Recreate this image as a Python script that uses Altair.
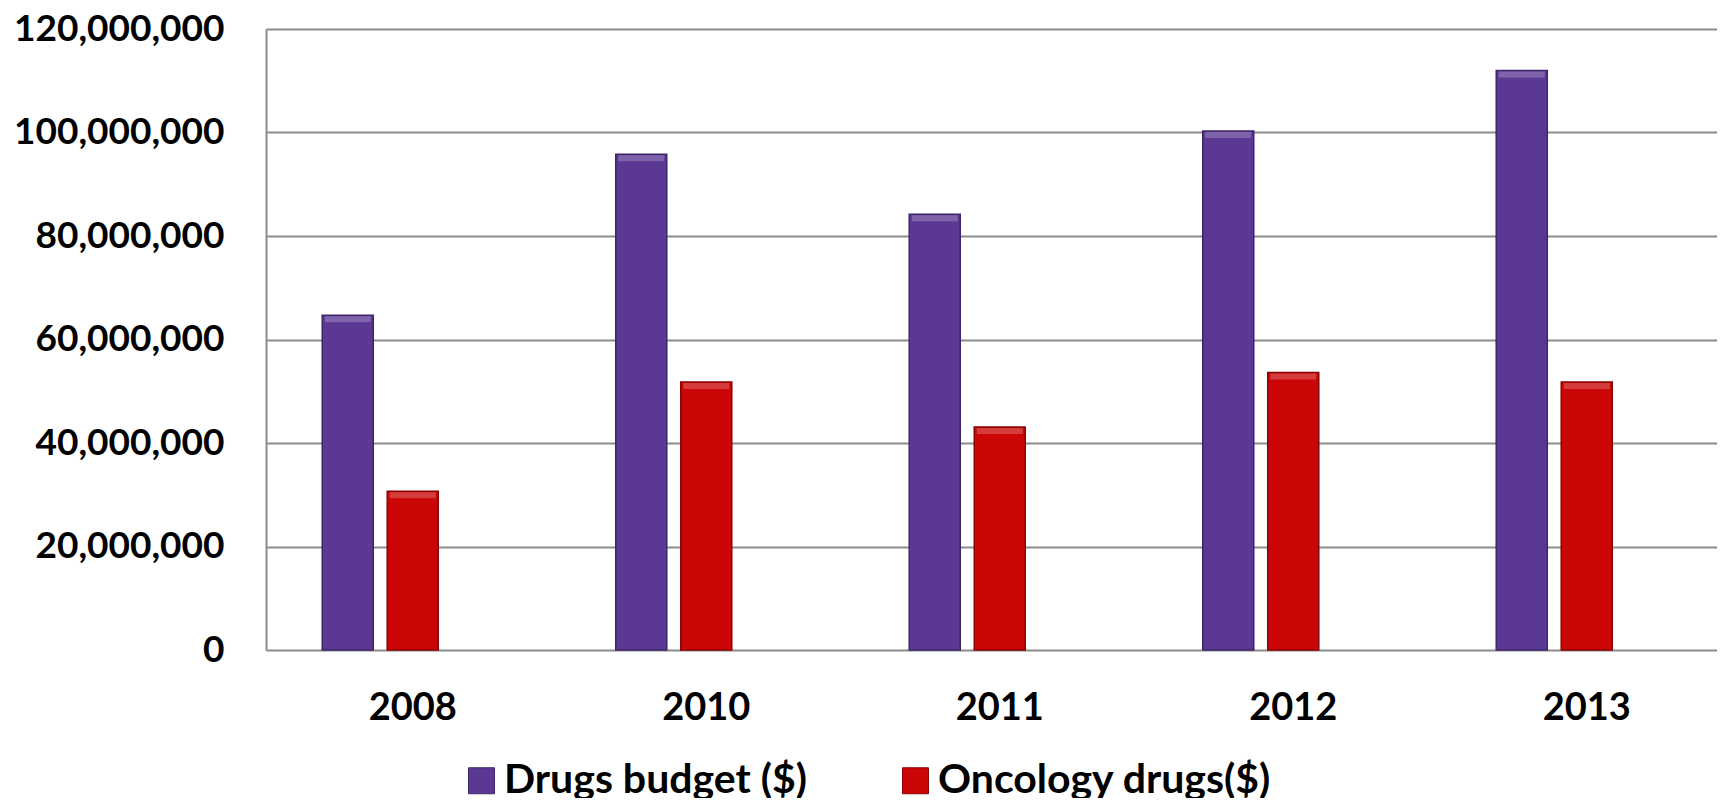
import altair as alt
import pandas as pd

years = ["2008", "2010", "2011", "2012", "2013"]
drugs_budget = [64.7e6, 95.8e6, 84.2e6, 100.3e6, 112.0e6]
oncology_drugs = [30.7e6, 51.8e6, 43.1e6, 53.6e6, 51.8e6]
series = ["Drugs budget ($)", "Oncology drugs($)"]
offset_slots = series + ["(empty)"]
fill_colors = ["#5B3893", "#CA0606"]
edge_colors = ["#3F2468", "#8A0303"]
y_ticks = [0, 20000000, 40000000, 60000000, 80000000, 100000000, 120000000]

rows = []
for i, yr in enumerate(years):
    rows.append({"year": yr, "series": series[0], "value": drugs_budget[i]})
    rows.append({"year": yr, "series": series[1], "value": oncology_drugs[i]})
df = pd.DataFrame(rows)

FONT = "Lato"
GRID = "#8C8C8C"

x_enc = alt.X(
    "year:N", sort=years,
    scale=alt.Scale(range=[0, 1467.5], paddingInner=0, paddingOuter=0),
    axis=alt.Axis(title=None, labelAngle=0, domain=False, ticks=False, tickSize=0,
                  labelPadding=39, labelFontSize=38, labelFont=FONT,
                  labelFontWeight="bold", labelColor="black", grid=False),
)
xoff_enc = alt.XOffset("series:N", scale=alt.Scale(domain=offset_slots, paddingInner=0.215, paddingOuter=0.865))
y_enc = alt.Y(
    "value:Q", scale=alt.Scale(domain=[0, 120000000], nice=False),
    axis=alt.Axis(title=None, values=y_ticks, format=",.0f", ticks=False, tickSize=0,
                  labelPadding=42, labelFontSize=37, labelFont=FONT, labelLimit=400,
                  labelFontWeight="bold", labelColor="black",
                  domainColor=GRID, domainWidth=2, gridColor=GRID, gridWidth=2),
)

bars = alt.Chart(df).mark_bar(strokeWidth=1.5).encode(
    x=x_enc, xOffset=xoff_enc, y=y_enc,
    color=alt.Color(
        "series:N", scale=alt.Scale(domain=series, range=fill_colors),
        legend=alt.Legend(title=None, orient="none", legendX=195, legendY=731,
                          direction="horizontal", symbolType="square", symbolSize=676,
                          symbolStrokeWidth=1, labelFontSize=41, labelFont=FONT,
                          labelFontWeight="bold", labelColor="black", labelOffset=2,
                          columnPadding=88, padding=0, labelLimit=600),
    ),
    stroke=alt.Stroke("series:N", scale=alt.Scale(domain=series, range=edge_colors), legend=None),
)

bevel = alt.Chart(df).mark_tick(thickness=6, size=46, yOffset=4, color="white", opacity=0.22).encode(
    x=x_enc, xOffset=xoff_enc, y=y_enc,
)

chart = alt.layer(bars, bevel).properties(
    width=1451, height=621,
    autosize=alt.AutoSizeParams(type="none"),
    padding={"left": 258, "top": 21, "right": 0, "bottom": 148},
    background="white",
).configure_view(stroke=None)

chart.save("out.html", embed_options={"renderer": "svg", "actions": False})
